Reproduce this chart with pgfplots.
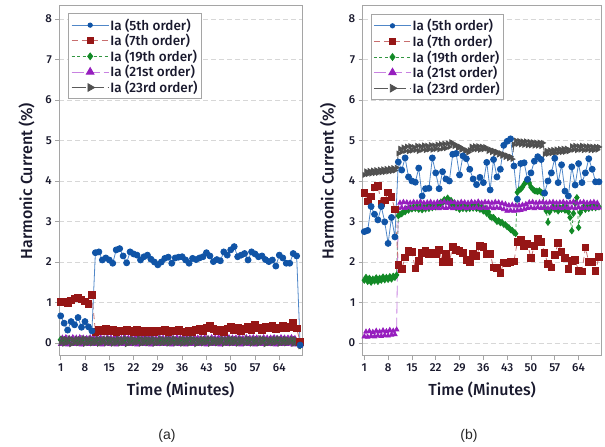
\documentclass[border=0pt]{standalone}
\usepackage{pgfplots}
\pgfplotsset{compat=1.18}
\usepackage{fontspec}
\setmainfont{Fira Sans}[UprightFont={* Medium}]
\newfontfamily\capfont{Liberation Sans}
\definecolor{c5}{RGB}{16,84,166}
\definecolor{c5l}{RGB}{80,135,200}
\definecolor{c7}{RGB}{150,22,22}
\definecolor{c7l}{RGB}{200,110,110}
\definecolor{c19}{RGB}{18,138,38}
\definecolor{c19l}{RGB}{50,150,65}
\definecolor{c21}{RGB}{150,30,190}
\definecolor{c21l}{RGB}{200,130,225}
\definecolor{c23}{RGB}{80,80,80}
\definecolor{c23l}{RGB}{90,90,90}
\definecolor{framec}{RGB}{165,165,165}
\definecolor{gridc}{RGB}{215,215,215}
\definecolor{txt}{RGB}{25,25,45}
\pgfplotsset{
 s5/.style={color=c5l, line width=0.8bp, mark=*, mark size=3bp, mark options={solid, draw=c5, fill=c5}},
 s7/.style={color=c7l, line width=0.8bp, dash pattern=on 6bp off 4bp, mark=square*, mark size=3.3bp, mark options={solid, draw=c7, fill=c7}},
 s19/.style={color=c19l, line width=0.8bp, dash pattern=on 3bp off 2.5bp, mark=diamond*, mark size=3.3bp, mark options={solid, draw=c19, fill=c19}},
 s21/.style={color=c21l, line width=0.8bp, dash pattern=on 12bp off 4bp, mark=triangle*, mark size=2.6bp, mark options={solid, draw=c21, fill=c21}},
 s23/.style={color=c23l, line width=0.8bp, dash pattern=on 14bp off 4bp, mark=triangle*, mark size=2.7bp, mark options={solid, draw=c23, fill=c23, rotate=-90}},
 myax/.style={
  scale only axis, anchor=south west,
  ymin=-0.32, ymax=8.32,
  ytick={0,...,8}, xtick={1,8,...,64},
  axis line style={draw=framec, line width=1bp},
  tick style={draw=framec, line width=0.8bp},
  tick align=outside, major tick length=4bp,
  xtick pos=left, ytick pos=left,
  ymajorgrids, grid style={draw=gridc, dash pattern=on 5bp off 3bp, line width=0.8bp},
  tick label style={font=\fontsize{11.5bp}{13bp}\selectfont, text=txt},
  /pgf/number format/assume math mode=true,
  label style={font=\fontsize{16bp}{18bp}\selectfont, text=txt},
  xlabel={Time (Minutes)}, ylabel={Harmonic Current (\%)},
  xlabel style={at={(axis description cs:0.5,-0.097)}, anchor=center},
  legend cell align=left,
  legend style={draw=framec, line width=1bp, fill=white, inner xsep=2.5bp, inner ysep=3.5bp,
    font=\fontsize{13.5bp}{14bp}\selectfont, nodes={inner sep=1.3bp, text=txt}},
  legend image code/.code={\draw[mark repeat=2, mark phase=2, #1] plot coordinates {(0bp,0bp) (18.5bp,0bp) (37bp,0bp)};},
 }
}
\begin{document}
\begin{tikzpicture}
\useasboundingbox (0,0) rectangle (605bp,447bp);
% ---------------- panel (a)
\begin{axis}[myax, at={(59.3bp,91bp)}, width=242.7bp, height=350bp, xmin=0.6, xmax=70.54,
  ylabel style={at={(axis description cs:-0.135,0.5)}, anchor=center},
  legend style={at={(0.037,0.979)}, anchor=north west}]
\addlegendimage{s5, mark size=2.2bp}
\addlegendimage{s7, mark size=3bp}
\addlegendimage{s19, mark size=3.4bp}
\addlegendimage{s21, mark size=4.4bp}
\addlegendimage{s23, mark size=4.4bp}
\legend{Ia (5th order), Ia (7th order), Ia (19th order), Ia (21st order), Ia (23rd order)}
% 19th order (per minute)
\addplot[s19, forget plot] table[row sep=\\, y index=0, x expr=1+\coordindex]{0.08\\0.03\\0.02\\0.04\\0.03\\0.02\\0.05\\0.07\\0.03\\0.02\\0.03\\0.02\\0.04\\0.03\\0.02\\0.03\\0.04\\0.02\\0.03\\0.02\\0.02\\0.03\\0.04\\0.02\\0.03\\0.02\\0.04\\0.03\\0.02\\0.03\\0.03\\0.02\\0.04\\0.03\\0.02\\0.03\\0.04\\0.02\\0.03\\0.02\\0.02\\0.03\\0.04\\0.02\\0.03\\0.02\\0.04\\0.03\\0.02\\0.03\\0.03\\0.02\\0.04\\0.03\\0.02\\0.03\\0.04\\0.02\\0.03\\0.02\\0.03\\0.02\\0.04\\0.03\\0.02\\0.03\\0.04\\0.02\\0.01\\-0.06\\};
% 21st order (every half minute)
\addplot[s21, forget plot] table[row sep=\\, y index=0, x expr=1+0.5*\coordindex]{-0.03\\0.13\\-0.02\\0.14\\-0.04\\0.12\\-0.01\\0.14\\-0.03\\0.13\\-0.02\\0.14\\-0.04\\0.13\\-0.01\\0.12\\-0.03\\0.14\\-0.02\\0.13\\-0.03\\0.13\\-0.02\\0.14\\-0.04\\0.12\\-0.01\\0.14\\-0.03\\0.13\\-0.02\\0.14\\-0.04\\0.13\\-0.01\\0.12\\-0.03\\0.14\\-0.02\\0.13\\-0.03\\0.13\\-0.02\\0.14\\-0.04\\0.12\\-0.01\\0.14\\-0.03\\0.13\\-0.02\\0.14\\-0.04\\0.13\\-0.01\\0.12\\-0.03\\0.14\\-0.02\\0.13\\-0.03\\0.13\\-0.02\\0.14\\-0.04\\0.12\\-0.01\\0.14\\-0.03\\0.13\\-0.02\\0.14\\-0.04\\0.13\\-0.01\\0.12\\-0.03\\0.14\\-0.02\\0.13\\-0.03\\0.13\\-0.02\\0.14\\-0.04\\0.12\\-0.01\\0.14\\-0.03\\0.13\\-0.02\\0.14\\-0.04\\0.13\\-0.01\\0.12\\-0.03\\0.14\\-0.02\\0.13\\-0.03\\0.13\\-0.02\\0.14\\-0.04\\0.12\\-0.01\\0.14\\-0.03\\0.13\\-0.02\\0.14\\-0.04\\0.13\\-0.01\\0.12\\-0.03\\0.14\\-0.02\\0.13\\-0.03\\0.13\\-0.02\\0.14\\-0.04\\0.12\\-0.01\\0.14\\-0.03\\0.13\\-0.03\\0.13\\-0.02\\0.14\\-0.04\\0.12\\-0.01\\0.05\\-0.07\\};
% 23rd order (every half minute)
\addplot[s23, forget plot] table[row sep=\\, y index=0, x expr=1+0.5*\coordindex]{0.00\\0.11\\-0.02\\0.10\\0.01\\0.12\\-0.03\\0.09\\0.00\\0.11\\-0.01\\0.10\\0.01\\0.12\\-0.02\\0.10\\0.00\\0.11\\-0.01\\0.09\\0.00\\0.11\\-0.02\\0.10\\0.01\\0.11\\-0.01\\0.12\\0.00\\0.10\\-0.02\\0.09\\0.00\\0.11\\-0.01\\0.10\\0.01\\0.12\\-0.03\\0.10\\0.00\\0.11\\-0.01\\0.09\\0.01\\0.12\\-0.02\\0.10\\0.00\\0.11\\-0.01\\0.10\\0.01\\0.11\\-0.02\\0.09\\0.00\\0.12\\-0.01\\0.10\\0.00\\0.11\\-0.02\\0.10\\0.01\\0.12\\-0.01\\0.09\\0.00\\0.11\\-0.02\\0.10\\0.00\\0.11\\-0.01\\0.12\\0.01\\0.10\\-0.03\\0.09\\0.00\\0.11\\-0.01\\0.10\\0.01\\0.12\\-0.02\\0.11\\0.00\\0.10\\-0.01\\0.09\\0.01\\0.11\\-0.02\\0.10\\0.00\\0.12\\-0.01\\0.11\\0.00\\0.10\\-0.02\\0.11\\0.01\\0.09\\-0.01\\0.12\\0.00\\0.10\\-0.02\\0.11\\0.00\\0.10\\-0.01\\0.12\\0.01\\0.11\\-0.03\\0.09\\0.00\\0.10\\-0.01\\0.11\\0.01\\0.12\\-0.02\\0.10\\0.00\\0.11\\-0.01\\0.09\\0.01\\0.11\\-0.02\\0.10\\-0.01\\0.04\\-0.08\\};
% 7th order (per minute)
\addplot[s7, forget plot] table[row sep=\\, y index=0, x expr=1+\coordindex]{1.02\\1.02\\0.98\\1.05\\1.10\\1.12\\1.08\\1.03\\0.96\\1.19\\0.28\\0.33\\0.30\\0.36\\0.30\\0.34\\0.28\\0.31\\0.29\\0.33\\0.30\\0.27\\0.32\\0.28\\0.30\\0.26\\0.30\\0.27\\0.31\\0.29\\0.33\\0.28\\0.31\\0.30\\0.33\\0.29\\0.27\\0.31\\0.28\\0.33\\0.36\\0.30\\0.38\\0.42\\0.35\\0.30\\0.34\\0.28\\0.36\\0.40\\0.32\\0.38\\0.30\\0.35\\0.40\\0.33\\0.45\\0.38\\0.32\\0.40\\0.36\\0.42\\0.35\\0.38\\0.43\\0.37\\0.40\\0.50\\0.36\\0.03\\};
% 5th order (per minute)
\addplot[s5, forget plot] table[row sep=\\, y index=0, x expr=1+\coordindex]{0.67\\0.49\\0.32\\0.53\\0.45\\0.63\\0.39\\0.53\\0.40\\0.30\\2.23\\2.25\\2.05\\2.10\\2.05\\1.97\\2.30\\2.33\\2.15\\1.98\\2.25\\2.20\\2.17\\2.05\\2.13\\2.17\\2.07\\2.00\\1.93\\2.00\\2.09\\2.12\\1.97\\2.10\\2.12\\2.13\\2.05\\1.97\\2.09\\2.06\\2.10\\2.13\\2.23\\2.15\\2.01\\2.06\\2.03\\2.25\\2.17\\2.30\\2.38\\2.13\\2.17\\2.21\\2.05\\2.25\\2.20\\2.13\\2.15\\2.06\\2.01\\2.05\\1.90\\2.17\\2.10\\1.97\\1.97\\2.21\\2.15\\-0.05\\};
\end{axis}
% ---------------- panel (b)
\begin{axis}[myax, at={(362.7bp,91bp)}, width=239bp, height=350bp, xmin=0.53, xmax=70.8,
  ylabel style={at={(axis description cs:-0.145,0.5)}, anchor=center},
  legend style={at={(0.033,0.977)}, anchor=north west}]
\addlegendimage{s5, mark size=2.2bp}
\addlegendimage{s7, mark size=3bp}
\addlegendimage{s19, mark size=3.4bp}
\addlegendimage{s21, mark size=4.4bp}
\addlegendimage{s23, mark size=4.4bp}
\legend{Ia (5th order), Ia (7th order), Ia (19th order), Ia (21st order), Ia (23rd order)}
% 19th order (every half minute)
\addplot[s19, forget plot, mark size=3bp] table[row sep=\\, y index=0, x expr=1+0.5*\coordindex]{1.55\\1.62\\1.52\\1.60\\1.50\\1.58\\1.53\\1.61\\1.52\\1.60\\1.55\\1.63\\1.56\\1.62\\1.57\\1.64\\1.58\\1.65\\1.62\\1.68\\3.14\\3.18\\3.19\\3.24\\3.24\\3.30\\3.28\\3.34\\3.31\\3.36\\3.32\\3.38\\3.30\\3.37\\3.29\\3.36\\3.31\\3.38\\3.32\\3.39\\3.34\\3.41\\3.36\\3.44\\3.40\\3.48\\3.46\\3.54\\3.50\\3.58\\3.46\\3.52\\3.40\\3.46\\3.34\\3.40\\3.30\\3.37\\3.32\\3.39\\3.31\\3.38\\3.32\\3.39\\3.33\\3.40\\3.32\\3.38\\3.30\\3.36\\3.26\\3.32\\3.20\\3.24\\3.12\\3.10\\3.10\\3.05\\3.00\\3.02\\2.97\\2.98\\2.93\\2.92\\2.87\\2.85\\2.80\\2.78\\2.73\\2.70\\3.72\\3.78\\3.80\\3.85\\3.92\\3.98\\4.02\\3.95\\3.85\\3.80\\3.76\\3.75\\3.74\\3.76\\3.72\\3.70\\3.34\\3.26\\2.98\\3.24\\3.32\\3.36\\3.30\\3.34\\3.26\\3.34\\3.30\\3.36\\3.28\\3.34\\3.24\\3.10\\2.77\\3.20\\3.45\\3.59\\2.85\\3.22\\3.32\\3.36\\3.30\\3.37\\3.32\\3.38\\3.34\\3.39\\3.34\\3.40\\3.36\\};
% 21st order (every half minute)
\addplot[s21, forget plot] table[row sep=\\, y index=0, x expr=1+0.5*\coordindex]{0.16\\0.28\\0.15\\0.29\\0.17\\0.27\\0.16\\0.30\\0.18\\0.28\\0.17\\0.31\\0.19\\0.29\\0.18\\0.32\\0.20\\0.30\\0.21\\0.33\\3.32\\3.46\\3.34\\3.48\\3.33\\3.47\\3.35\\3.46\\3.32\\3.48\\3.34\\3.47\\3.33\\3.49\\3.35\\3.46\\3.32\\3.47\\3.34\\3.48\\3.33\\3.46\\3.35\\3.48\\3.32\\3.47\\3.34\\3.49\\3.33\\3.46\\3.35\\3.48\\3.32\\3.47\\3.34\\3.46\\3.33\\3.48\\3.35\\3.47\\3.32\\3.46\\3.34\\3.48\\3.33\\3.47\\3.35\\3.49\\3.32\\3.46\\3.34\\3.48\\3.33\\3.47\\3.35\\3.46\\3.32\\3.48\\3.34\\3.47\\3.33\\3.45\\3.30\\3.43\\3.26\\3.40\\3.27\\3.41\\3.26\\3.39\\3.27\\3.40\\3.28\\3.41\\3.30\\3.43\\3.33\\3.47\\3.34\\3.48\\3.32\\3.46\\3.35\\3.47\\3.33\\3.48\\3.34\\3.46\\3.32\\3.47\\3.35\\3.48\\3.33\\3.46\\3.34\\3.47\\3.32\\3.48\\3.35\\3.46\\3.33\\3.47\\3.34\\3.49\\3.32\\3.46\\3.35\\3.47\\3.33\\3.48\\3.34\\3.46\\3.32\\3.47\\3.35\\3.48\\3.33\\3.46\\3.34\\};
% 23rd order (every half minute)
\addplot[s23, forget plot] table[row sep=\\, y index=0, x expr=1+0.5*\coordindex]{4.15\\4.24\\4.17\\4.25\\4.18\\4.26\\4.19\\4.27\\4.20\\4.28\\4.21\\4.29\\4.22\\4.30\\4.23\\4.31\\4.24\\4.32\\4.26\\4.33\\4.68\\4.80\\4.72\\4.83\\4.74\\4.85\\4.73\\4.86\\4.75\\4.84\\4.76\\4.87\\4.74\\4.86\\4.77\\4.88\\4.76\\4.87\\4.78\\4.89\\4.77\\4.88\\4.79\\4.90\\4.78\\4.91\\4.80\\4.92\\4.81\\4.93\\4.84\\4.96\\4.93\\4.86\\4.89\\4.81\\4.85\\4.77\\4.80\\4.73\\4.76\\4.70\\4.76\\4.85\\4.77\\4.86\\4.78\\4.86\\4.77\\4.85\\4.78\\4.84\\4.80\\4.74\\4.78\\4.71\\4.75\\4.68\\4.72\\4.65\\4.69\\4.62\\4.66\\4.59\\4.63\\4.56\\4.60\\4.54\\4.90\\5.00\\4.91\\4.99\\4.90\\4.98\\4.89\\4.98\\4.88\\4.97\\4.88\\4.96\\4.87\\4.95\\4.87\\4.95\\4.86\\4.94\\4.66\\4.75\\4.67\\4.76\\4.68\\4.77\\4.69\\4.78\\4.70\\4.79\\4.71\\4.80\\4.72\\4.80\\4.73\\4.76\\4.86\\4.77\\4.87\\4.76\\4.86\\4.77\\4.87\\4.76\\4.86\\4.77\\4.86\\4.76\\4.85\\4.76\\4.85\\4.77\\4.84\\};
% 7th order (per minute)
\addplot[s7, forget plot] table[row sep=\\, y index=0, x expr=1+\coordindex]{3.70\\3.50\\3.62\\3.84\\3.88\\3.45\\3.52\\3.72\\3.60\\3.30\\1.93\\1.83\\2.11\\2.28\\2.25\\1.84\\2.03\\2.22\\2.27\\2.20\\2.22\\2.20\\2.30\\2.00\\2.20\\2.00\\2.38\\2.30\\2.28\\2.22\\2.05\\2.00\\2.20\\2.15\\2.40\\2.38\\2.20\\2.20\\1.87\\1.85\\1.73\\1.99\\1.97\\2.00\\2.02\\2.50\\2.55\\2.40\\2.45\\2.10\\2.40\\2.57\\2.50\\2.22\\1.95\\1.87\\2.18\\2.47\\2.25\\2.10\\1.83\\2.03\\2.05\\1.78\\1.77\\2.36\\2.00\\2.00\\1.78\\2.13\\};
% 5th order (per minute)
\addplot[s5, forget plot] table[row sep=\\, y index=0, x expr=1+\coordindex]{2.75\\2.78\\3.37\\3.18\\3.04\\3.37\\2.99\\2.46\\3.10\\2.62\\4.47\\4.27\\4.57\\4.10\\4.00\\3.97\\4.32\\3.63\\3.81\\3.82\\4.57\\4.20\\3.81\\4.23\\4.05\\4.00\\4.66\\4.68\\4.15\\4.62\\4.55\\4.29\\4.05\\3.91\\4.09\\3.96\\4.46\\3.78\\4.53\\4.10\\4.29\\4.88\\4.98\\5.04\\4.37\\3.55\\4.43\\4.45\\4.04\\4.20\\4.49\\4.60\\4.53\\3.70\\4.00\\4.20\\4.56\\3.96\\4.40\\3.75\\3.63\\4.35\\3.90\\4.43\\3.96\\4.20\\4.55\\4.29\\3.98\\3.98\\};
\end{axis}
\node[font=\capfont\fontsize{14bp}{16bp}\selectfont, text=black!85] at (167bp,11bp) {(a)};
\node[font=\capfont\fontsize{14bp}{16bp}\selectfont, text=black!85] at (469bp,11bp) {(b)};
\end{tikzpicture}
\end{document}
